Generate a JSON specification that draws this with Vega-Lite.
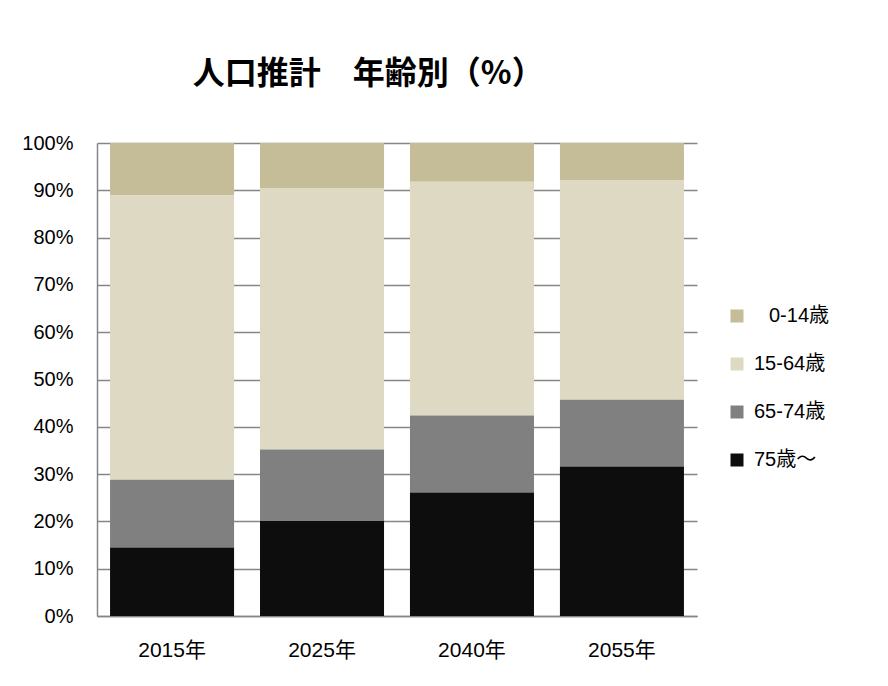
{
  "$schema": "https://vega.github.io/schema/vega-lite/v6.json",
  "width": 600,
  "height": 473,
  "autosize": "none",
  "padding": {"left": 97, "top": 143, "right": 191, "bottom": 70},
  "background": "white",
  "title": {
    "text": "人口推計　年齢別（%）",
    "font": "Noto Sans CJK JP",
    "fontSize": 32,
    "fontWeight": "bold",
    "color": "black",
    "anchor": "start",
    "dx": 171,
    "offset": 42
  },
  "data": {
    "values": [
      {"year": "2015年", "age": "0-14歳", "pct": 11.1},
      {"year": "2015年", "age": "15-64歳", "pct": 60.1},
      {"year": "2015年", "age": "65-74歳", "pct": 14.3},
      {"year": "2015年", "age": "75歳～", "pct": 14.5},
      {"year": "2025年", "age": "0-14歳", "pct": 9.5},
      {"year": "2025年", "age": "15-64歳", "pct": 55.3},
      {"year": "2025年", "age": "65-74歳", "pct": 15.1},
      {"year": "2025年", "age": "75歳～", "pct": 20.1},
      {"year": "2040年", "age": "0-14歳", "pct": 8.2},
      {"year": "2040年", "age": "15-64歳", "pct": 49.4},
      {"year": "2040年", "age": "65-74歳", "pct": 16.3},
      {"year": "2040年", "age": "75歳～", "pct": 26.1},
      {"year": "2055年", "age": "0-14歳", "pct": 7.8},
      {"year": "2055年", "age": "15-64歳", "pct": 46.5},
      {"year": "2055年", "age": "65-74歳", "pct": 14.1},
      {"year": "2055年", "age": "75歳～", "pct": 31.6}
    ]
  },
  "mark": {"type": "bar"},
  "encoding": {
    "x": {
      "field": "year",
      "type": "nominal",
      "sort": null,
      "scale": {"paddingInner": 0.173, "paddingOuter": 0.087},
      "axis": {
        "title": null,
        "labelAngle": 0,
        "ticks": false,
        "grid": false,
        "domainColor": "#868686",
        "domainWidth": 1.5,
        "labelFont": "Liberation Sans, Noto Sans CJK JP",
        "labelFontSize": 21,
        "labelColor": "black",
        "labelPadding": 23
      }
    },
    "y": {
      "field": "pct",
      "type": "quantitative",
      "stack": "normalize",
      "scale": {"domain": [0, 1]},
      "axis": {
        "title": null,
        "format": ".0%",
        "values": [0, 0.1, 0.2, 0.3, 0.4, 0.5, 0.6, 0.7, 0.8, 0.9, 1],
        "ticks": false,
        "domainColor": "#868686",
        "domainWidth": 1.5,
        "gridColor": "#868686",
        "gridWidth": 1.5,
        "labelFont": "Liberation Sans, Noto Sans CJK JP",
        "labelFontSize": 20,
        "labelColor": "black",
        "labelPadding": 24
      }
    },
    "color": {
      "field": "age",
      "type": "nominal",
      "scale": {
        "domain": ["0-14歳", "15-64歳", "65-74歳", "75歳～"],
        "range": ["#C4BD97", "#DDD9C3", "#808080", "#0D0D0D"]
      },
      "legend": {
        "title": null,
        "orient": "none",
        "legendX": 630,
        "legendY": 163,
        "symbolType": "square",
        "symbolSize": 169,
        "symbolStrokeWidth": 0,
        "labelFont": "Liberation Sans, Noto Sans CJK JP",
        "labelFontSize": 20,
        "labelColor": "black",
        "labelOffset": 7,
        "labelLimit": 300,
        "rowPadding": 28,
        "encode": {
          "labels": {
            "update": {
              "dx": {"signal": "datum.index === 0 ? 15 : 0"}
            }
          }
        }
      }
    },
    "order": {"field": "age", "sort": "descending"}
  },
  "config": {"view": {"stroke": null}}
}
